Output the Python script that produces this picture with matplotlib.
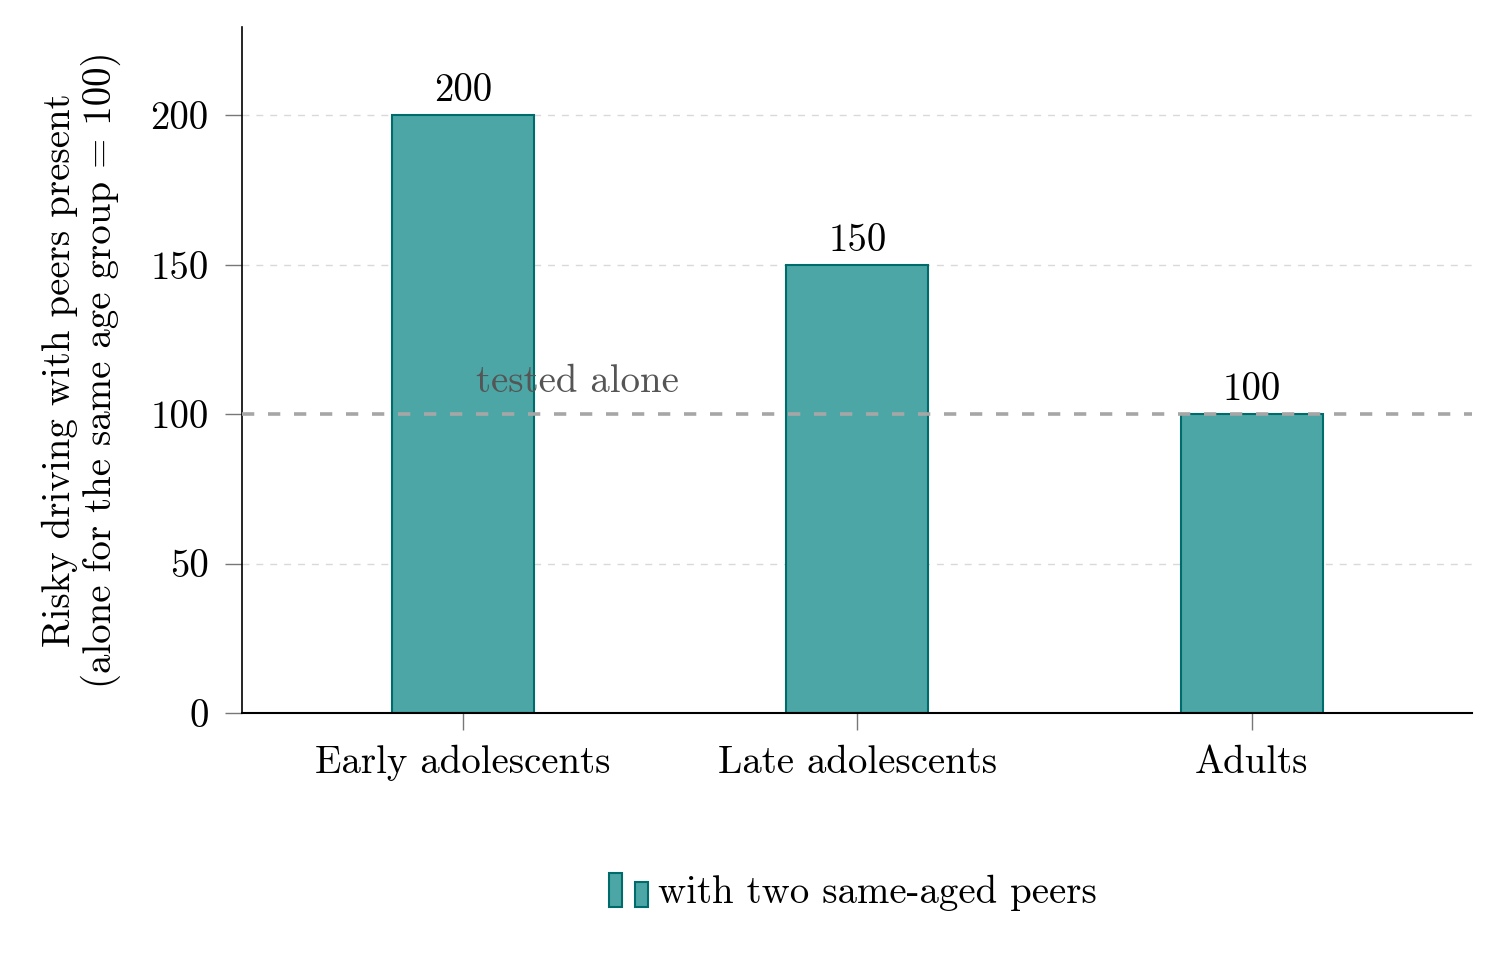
import matplotlib
matplotlib.use("Agg")
import matplotlib.pyplot as plt
from matplotlib.patches import Rectangle, Patch
from matplotlib.legend_handler import HandlerBase

plt.rcParams['font.family'] = ['cmr10', 'DejaVu Serif']
plt.rcParams['axes.formatter.use_mathtext'] = True
plt.rcParams['mathtext.fontset'] = 'cm'

categories = ["Early adolescents", "Late adolescents", "Adults"]
values = [200, 150, 100]
value_labels = ["200", "150", "100"]
yticks = [0, 50, 100, 150, 200]
baseline = 100
series_name = "with two same-aged peers"

face = '#4ca6a6'
edge = '#006b6b'
FS = 28

fig = plt.figure(figsize=(14.99, 9.57), dpi=100)
ax = fig.add_axes([242/1499, 1-713/957, (1472-242)/1499, (713-27)/957])

x = list(range(len(categories)))
ax.bar(x, values, width=0.36, color=face, edgecolor=edge, linewidth=1.5, zorder=2)
for xi, v, lab in zip(x, values, value_labels):
    ax.annotate(lab, (xi, v), xytext=(0, 10), textcoords='offset points',
                ha='center', va='baseline', fontsize=FS, zorder=4)

ax.axhline(baseline, color='#a6a6a6', linestyle=(0, (3.4, 3.8)), linewidth=2.6, zorder=3)
ax.text(0.29, baseline + 7.4, "tested alone", ha='center', va='baseline',
        fontsize=FS, color='#555555', zorder=4)

ax.set_xlim(-0.56, 2.558)
ax.set_ylim(0, 229.5)
ax.set_yticks(yticks)
ax.set_yticklabels([str(t) for t in yticks])
ax.set_xticks(x)
ax.set_xticklabels(categories)
ax.tick_params(axis='both', labelsize=FS, color='#777777', length=12, width=1)
ax.tick_params(axis='x', pad=11)
ax.tick_params(axis='y', pad=12)
for t in yticks:
    if t > 0 and t != baseline:
        ax.axhline(t, color='#d9d9d9', linestyle=(0, (5, 5)), linewidth=1, zorder=1)

ax.spines['top'].set_visible(False)
ax.spines['right'].set_visible(False)
ax.spines['left'].set_linewidth(1.2)
ax.spines['bottom'].set_linewidth(1.5)

ax.set_ylabel("Risky driving with peers present\n(alone for the same age group = 100)",
              fontsize=FS, labelpad=21, linespacing=1.1)


class TwoBarHandler(HandlerBase):
    def create_artists(self, legend, orig_handle, xdescent, ydescent,
                       width, height, fontsize, trans):
        y0 = -ydescent - 0.15*height
        r1 = Rectangle((-xdescent, y0), width*0.34, height*1.26,
                       facecolor=face, edgecolor=edge, linewidth=1.5, transform=trans)
        r2 = Rectangle((-xdescent + width*0.68, y0), width*0.32, height*0.93,
                       facecolor=face, edgecolor=edge, linewidth=1.5, transform=trans)
        return [r1, r2]


handle = Patch(facecolor=face, edgecolor=edge)
fig.legend([handle], [series_name], handler_map={Patch: TwoBarHandler()},
           loc='center', bbox_to_anchor=(853/1499, 1-893/957), frameon=False,
           fontsize=FS, handlelength=1.0, handletextpad=0.28)

fig.savefig("out.png", dpi=100)
